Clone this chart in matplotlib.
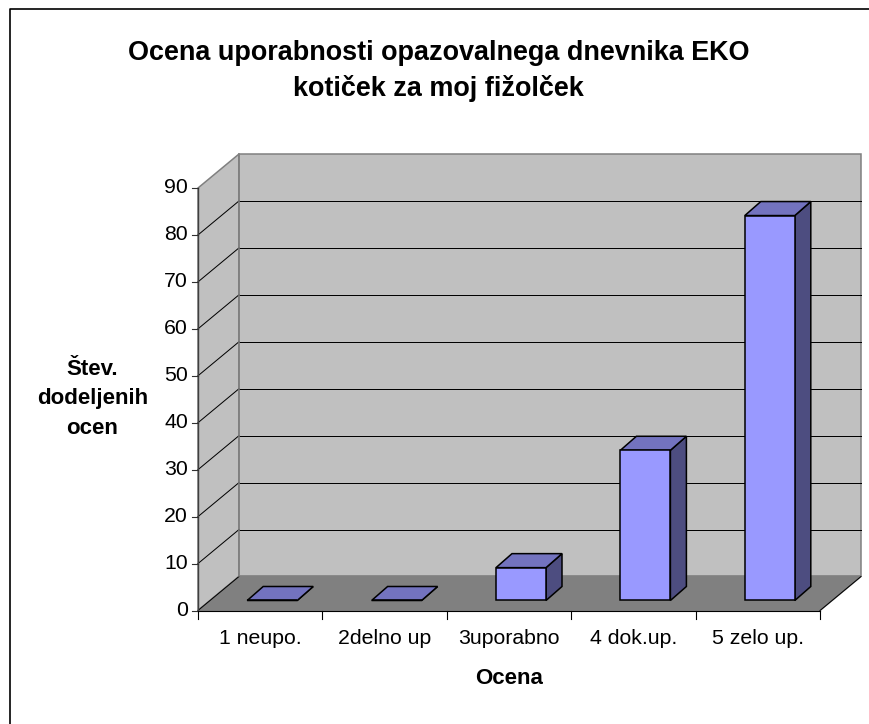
import matplotlib as mpl
mpl.use('Agg')
import matplotlib.pyplot as plt
from matplotlib.lines import Line2D
from matplotlib.patches import Polygon, Rectangle

categories = ['1 neupo.', '2delno up', '3uporabno', '4 dok.up.', '5 zelo up.']
values = [0, 0, 7, 32, 82]
yticks = [0, 10, 20, 30, 40, 50, 60, 70, 80, 90]
title = 'Ocena uporabnosti opazovalnega dnevnika EKO\nkotiček za moj fižolček'

plt.rcParams['font.family'] = ['Liberation Sans', 'DejaVu Sans']

W, H = 869, 724
fig = plt.figure(figsize=(W/100, H/100), dpi=100, facecolor='white')
ax = fig.add_axes([198/W, 1-610.5/H, 622/W, 422.5/H])
ax.set_xlim(0, 5)
ax.set_ylim(0, 90)
ax.axis('off')

# depth of the 3d box, in data units
dx = 41/124.4
dy = 34/4.694
# bar placement
bar_w = 50/124.4
bar_dx = 16/124.4
bar_dy = 14/4.694
off_x = 12/124.4
off_y = 10/4.694

def poly(pts, fc, ec='black', lw=1.1, z=1):
    ax.add_patch(Polygon(pts, closed=True, facecolor=fc, edgecolor=ec, lw=lw, zorder=z, clip_on=False))

# walls and floor
poly([(0, 0), (dx, dy), (dx, 90+dy), (0, 90)], '#c0c0c0', ec='#808080')
poly([(dx, dy), (5+dx, dy), (5+dx, 90+dy), (dx, 90+dy)], '#c0c0c0', ec='#808080')
poly([(0, 0), (5, 0), (5+dx, dy), (dx, dy)], '#808080', ec='#808080')

# gridlines round side wall and back wall, top one stays grey
for t in yticks[:-1]:
    ax.plot([0, dx], [t, t+dy], color='black', lw=0.72, zorder=2, clip_on=False)
    if t > 0:
        ax.plot([dx, 5+dx], [t+dy, t+dy], color='black', lw=0.72, zorder=2, clip_on=False)
ax.plot([5, 5+dx], [0, dy], color='black', lw=0.72, zorder=2, clip_on=False)
ax.plot([dx, dx], [dy, 90+dy], color='#808080', lw=1.1, zorder=2, clip_on=False)
ax.plot([0, 5], [0, 0], color='black', lw=0.8, zorder=2, clip_on=False)
ax.plot([0, 0], [0, 90], color='#404040', lw=1.0, zorder=2, clip_on=False)

# axis ticks
for t in yticks:
    ax.plot([-6/124.4, 0], [t, t], color='#303030', lw=0.8, zorder=2, clip_on=False)
    ax.text(-10/124.4, t, str(t), ha='right', va='center', fontsize=15.3)
for i in range(6):
    ax.plot([i, i], [0, -8/4.694], color='black', lw=0.8, zorder=2, clip_on=False)
for i, c in enumerate(categories):
    ax.text(i+0.5, -28/4.694, c, ha='center', va='center', fontsize=15.3)

# bars
for i, v in enumerate(values):
    x0 = i + 0.5 - bar_w/2 + off_x
    y0 = off_y
    x1 = x0 + bar_w
    z = 3 + i
    poly([(x1, y0), (x1+bar_dx, y0+bar_dy), (x1+bar_dx, y0+bar_dy+v), (x1, y0+v)], '#4d4d80', z=z)
    poly([(x0, y0+v), (x1, y0+v), (x1+bar_dx, y0+v+bar_dy), (x0+bar_dx, y0+v+bar_dy)], '#7373bf', z=z)
    ax.add_patch(Rectangle((x0, y0), bar_w, v, facecolor='#9999ff', edgecolor='black', lw=1.1, zorder=z, clip_on=False))

fig.text(438.5/W, 1-71/H, title, ha='center', va='center', fontsize=19.45, fontweight='bold', linespacing=1.42)
fig.text(92.5/W, 1-399/H, 'Štev.\ndodeljenih\nocen', ha='center', va='center', fontsize=16, fontweight='bold', linespacing=1.52)
fig.text(509/W, 1-678/H, 'Ocena', ha='center', va='center', fontsize=16, fontweight='bold')

# chart border, only top and left edges are inside the crop
fig.add_artist(Line2D([10/W, 10/W, 1], [0, 1-9/H, 1-9/H], transform=fig.transFigure, color='black', lw=1.2))

fig.savefig('out.png', dpi=100)
